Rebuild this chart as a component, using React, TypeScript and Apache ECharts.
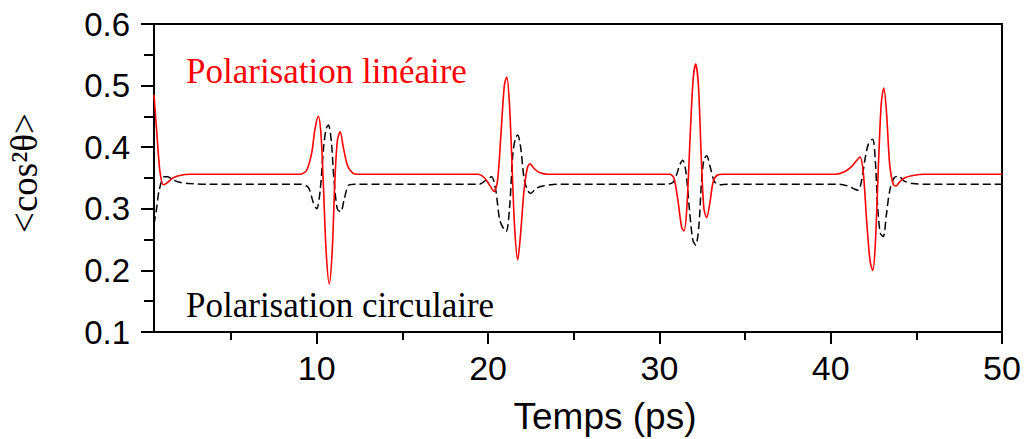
import React, { useEffect, useRef } from "react";
import * as echarts from "echarts";

// Polarisation linéaire (red, solid)
const linearTime = [
  0.5, 0.7, 0.85, 1.05, 1.3, 1.6, 2.0, 2.6, 9.0, 9.4, 9.7, 9.9, 10.09, 10.25, 10.4, 10.55, 10.73, 10.9, 11.05, 11.2, 11.37, 11.55, 11.8, 12.1, 12.4,
  19.4, 19.8, 20.1, 20.35, 20.55, 20.75, 20.95, 21.09, 21.25, 21.4, 21.55, 21.73, 21.9, 22.1, 22.3, 22.45, 22.7, 23.0, 23.5,
  30.6, 30.85, 31.1, 31.3, 31.44, 31.6, 31.8, 31.97, 32.12, 32.28, 32.45, 32.6, 32.76, 32.95, 33.15, 33.4, 33.7,
  40.3, 40.8, 41.2, 41.5, 41.71, 41.9, 42.1, 42.3, 42.45, 42.6, 42.8, 42.95, 43.1, 43.25, 43.45, 43.65, 43.82, 44.0, 44.3, 44.8, 45.5, 50,
];
const linearValues = [
  0.485, 0.41, 0.36, 0.339, 0.343, 0.35, 0.354, 0.356, 0.356, 0.362, 0.39, 0.43, 0.45, 0.42, 0.33, 0.23, 0.178, 0.23, 0.34, 0.41, 0.425, 0.4, 0.37, 0.358, 0.356,
  0.356, 0.35, 0.338, 0.328, 0.345, 0.42, 0.5, 0.514, 0.47, 0.37, 0.27, 0.217, 0.26, 0.33, 0.367, 0.373, 0.365, 0.359, 0.356,
  0.356, 0.35, 0.31, 0.27, 0.264, 0.3, 0.42, 0.51, 0.535, 0.5, 0.38, 0.3, 0.286, 0.31, 0.345, 0.355, 0.356,
  0.356, 0.36, 0.368, 0.378, 0.384, 0.36, 0.28, 0.215, 0.2, 0.24, 0.38, 0.47, 0.496, 0.46, 0.37, 0.34, 0.337, 0.343, 0.35, 0.354, 0.356, 0.356,
];

// Polarisation circulaire (black, dashed)
const circularTime = [
  0.5, 0.65, 0.8, 1.1, 1.3, 1.6, 2.0, 2.6, 3.5, 9.0, 9.5, 9.8, 10.0, 10.2, 10.4, 10.55, 10.68, 10.85, 11.0, 11.2, 11.4, 11.6, 11.85, 12.2,
  19.5, 19.9, 20.2, 20.45, 20.7, 21.05, 21.25, 21.45, 21.6, 21.73, 21.9, 22.1, 22.3, 22.49, 22.8, 23.2, 24,
  30.5, 30.8, 31.0, 31.2, 31.36, 31.55, 31.75, 31.95, 32.12, 32.3, 32.45, 32.6, 32.76, 32.95, 33.2, 33.5, 34,
  40.5, 41.0, 41.4, 41.6, 41.8, 42.0, 42.2, 42.45, 42.6, 42.75, 42.9, 43.07, 43.25, 43.45, 43.7, 43.95, 44.3, 44.8, 45.5, 50,
];
const circularValues = [
  0.275, 0.3, 0.33, 0.352, 0.352, 0.347, 0.343, 0.341, 0.34, 0.34, 0.335, 0.31, 0.3, 0.33, 0.4, 0.43, 0.436, 0.41, 0.35, 0.3, 0.295, 0.315, 0.338, 0.34,
  0.34, 0.347, 0.352, 0.33, 0.28, 0.263, 0.3, 0.39, 0.415, 0.42, 0.4, 0.35, 0.33, 0.325, 0.333, 0.337, 0.34,
  0.34, 0.343, 0.355, 0.372, 0.379, 0.36, 0.3, 0.25, 0.241, 0.27, 0.34, 0.38, 0.386, 0.37, 0.345, 0.339, 0.34,
  0.34, 0.337, 0.332, 0.33, 0.345, 0.38, 0.405, 0.413, 0.38, 0.3, 0.26, 0.255, 0.29, 0.33, 0.35, 0.353, 0.345, 0.341, 0.34, 0.34,
];

const xMajorTicks = [10, 20, 30, 40, 50];
const xMinorTicks = [5, 15, 25, 35, 45];
const yTickLabels = ["0.1", "0.2", "0.3", "0.4", "0.5", "0.6"];

const seriesNames = ["Polarisation linéaire", "Polarisation circulaire"];
const xAxisTitle = "Temps (ps)";
const yAxisTitle = "<cos²θ>";

const SANS = "'Liberation Sans', Arial, Helvetica, sans-serif";
const SERIF = "'Liberation Serif', 'Times New Roman', serif";

const zip = (xs: number[], ys: number[]) => xs.map((x, i) => [x, ys[i]]);

export default function App() {
  const ref = useRef<HTMLDivElement>(null);

  useEffect(() => {
    if (!ref.current) return;
    const chart = echarts.init(ref.current, null, { renderer: "svg" });
    const xMin = 0.5;
    const xMax = 50;
    chart.setOption({
      animation: false,
      backgroundColor: "#ffffff",
      grid: {
        left: 154,
        right: 22,
        top: 24,
        bottom: 107,
        show: true,
        borderColor: "#000",
        borderWidth: 2,
        backgroundColor: "transparent",
      },
      xAxis: [
        {
          type: "value",
          min: xMin,
          max: xMax,
          position: "bottom",
          axisLine: { show: true, onZero: false, lineStyle: { color: "#000", width: 2 } },
          axisTick: { show: true, inside: false, length: 12, customValues: xMajorTicks, lineStyle: { color: "#000", width: 2 } },
          axisLabel: {
            show: true,
            customValues: xMajorTicks,
            margin: 19,
            color: "#000",
            fontSize: 34,
            fontFamily: SANS,
            formatter: (v: number) => String(Math.round(v)),
          },
          splitLine: { show: false },
        },
        {
          type: "value",
          min: xMin,
          max: xMax,
          position: "bottom",
          axisLine: { show: false },
          axisTick: { show: true, inside: false, length: 8, customValues: xMinorTicks, lineStyle: { color: "#000", width: 2 } },
          axisLabel: { show: false },
          splitLine: { show: false },
        },
      ],
      yAxis: {
        type: "value",
        min: 0.1,
        max: 0.6,
        interval: 0.1,
        axisLine: { show: true, onZero: false, lineStyle: { color: "#000", width: 2 } },
        axisTick: { show: true, inside: false, length: 13, lineStyle: { color: "#000", width: 2 } },
        minorTick: { show: true, splitNumber: 2, length: 10, lineStyle: { color: "#000", width: 2 } },
        axisLabel: {
          margin: 24,
          color: "#000",
          fontSize: 33,
          fontFamily: SANS,
          formatter: (v: number) => {
            const idx = Math.round(v * 10) - 1;
            return yTickLabels[idx] ?? v.toFixed(1);
          },
        },
        splitLine: { show: false },
      },
      graphic: [
        {
          type: "text",
          x: 605,
          y: 416,
          style: { text: xAxisTitle, fontSize: 37, fontFamily: SANS, fill: "#000", textAlign: "center", textVerticalAlign: "middle" },
        },
        {
          type: "text",
          x: 24,
          y: 173,
          rotation: Math.PI / 2,
          style: { text: yAxisTitle, fontSize: 37, fontFamily: SERIF, fill: "#000", textAlign: "center", textVerticalAlign: "middle" },
        },
        {
          type: "text",
          x: 186,
          y: 71,
          style: { text: seriesNames[0], fontSize: 35, fontFamily: SERIF, fill: "#ff0000", textAlign: "left", textVerticalAlign: "middle" },
        },
        {
          type: "text",
          x: 186,
          y: 305,
          style: { text: seriesNames[1], fontSize: 35, fontFamily: SERIF, fill: "#000", textAlign: "left", textVerticalAlign: "middle" },
        },
      ],
      series: [
        {
          name: seriesNames[1],
          type: "line",
          data: zip(circularTime, circularValues),
          showSymbol: false,
          smooth: 0.3,
          lineStyle: { color: "#000", width: 1.5, type: [8, 4] },
        },
        {
          name: seriesNames[0],
          type: "line",
          data: zip(linearTime, linearValues),
          showSymbol: false,
          smooth: 0.3,
          lineStyle: { color: "#ff0000", width: 1.6 },
        },
      ],
    });
    return () => chart.dispose();
  }, []);

  return (
    <div
      ref={ref}
      style={{ position: "absolute", left: 0, top: 0, width: 1024, height: 439 }}
    />
  );
}
